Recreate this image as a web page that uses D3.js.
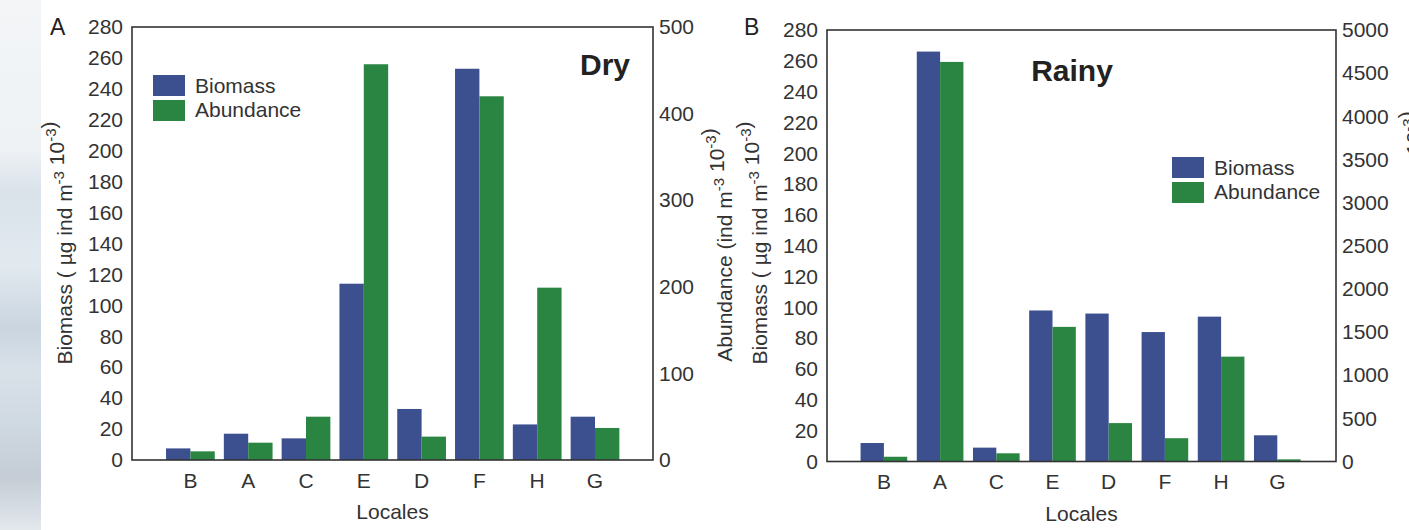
<!DOCTYPE html>
<html>
<head>
<meta charset="utf-8">
<script src="https://cdn.jsdelivr.net/npm/d3@7"></script>
<style>
  body { margin: 0; background: #fff; }
  svg { display: block; font-family: "Liberation Sans", Arial, sans-serif; }
</style>
</head>
<body>
<div id="chart"></div>
<script>
// values
const locales = ["B", "A", "C", "E", "D", "F", "H", "G"];
const dryBiomass = [7.5, 17, 14, 114, 33, 253, 23, 28];
const dryAbundance = [10, 20, 50, 457, 27, 420, 199, 37];
const rainyBiomass = [12, 266, 9, 98, 96, 84, 94, 17];
const rainyAbundance = [55, 4630, 95, 1560, 445, 270, 1215, 25];
const biomassTicks = [0, 20, 40, 60, 80, 100, 120, 140, 160, 180, 200, 220, 240, 260, 280];
const dryAbundanceTicks = [0, 100, 200, 300, 400, 500];
const rainyAbundanceTicks = [0, 500, 1000, 1500, 2000, 2500, 3000, 3500, 4000, 4500, 5000];
const seriesNames = ["Biomass", "Abundance"];

const colBiomass = "#3c4f8f",
    colAbundance = "#2a8543";

const width = 1409, height = 530;
const fontSize = 21;

const svg = d3.select("#chart")
    .append("svg")
    .attr("width", width)
    .attr("height", height);

// photo strip at the left edge
const grad = svg.append("defs").append("linearGradient")
    .attr("id", "strip").attr("x1", 0).attr("y1", 0).attr("x2", 0).attr("y2", 1);
[[0, "#f3f5f7"], [0.28, "#eef2f5"], [0.36, "#dae2ea"], [0.5, "#e2e9ef"], [0.62, "#cad5e0"],
 [0.7, "#d9e1e9"], [0.8, "#cfd9e2"], [0.9, "#c5ccd5"], [1, "#e3e8ed"]].forEach(s => {
    grad.append("stop").attr("offset", s[0]).attr("stop-color", s[1]);
});
svg.append("rect").attr("x", 0).attr("y", 0).attr("width", 41).attr("height", height)
    .attr("fill", "url(#strip)");

// rotated title with superscripts
function yTitle(g, x, y, parts) {
    const t = g.append("text")
        .attr("transform", "translate(" + x + "," + y + ")rotate(-90)")
        .attr("text-anchor", "middle")
        .attr("font-size", fontSize)
        .attr("fill", "#333");
    parts.forEach(p => {
        if (p.sup) {
            t.append("tspan").attr("dy", -8).attr("font-size", 15).text(p.sup);
            t.append("tspan").attr("dy", 8).text("");
        } else {
            t.append("tspan").text(p.t);
        }
    });
    return t;
}

function drawPanel(cfg) {
    const g = svg.append("g");

    const x = d3.scaleBand()
        .domain(locales)
        .range(cfg.band)
        .paddingInner(cfg.pad)
        .paddingOuter(cfg.pad / 2);

    const yL = d3.scaleLinear().domain([0, 280]).range([cfg.bottom, cfg.top]);
    const yR = d3.scaleLinear().domain([0, cfg.rTicks[cfg.rTicks.length - 1]]).range([cfg.bottom, cfg.top]);

    const half = x.bandwidth() / 2;

    // bars
    g.selectAll(".bio")
        .data(locales)
        .enter()
        .append("rect")
        .attr("x", d => x(d))
        .attr("y", (d, i) => yL(cfg.biomass[i]))
        .attr("width", half)
        .attr("height", (d, i) => cfg.bottom - yL(cfg.biomass[i]))
        .attr("fill", colBiomass);

    g.selectAll(".abu")
        .data(locales)
        .enter()
        .append("rect")
        .attr("x", d => x(d) + half)
        .attr("y", (d, i) => yR(cfg.abundance[i]))
        .attr("width", half)
        .attr("height", (d, i) => cfg.bottom - yR(cfg.abundance[i]))
        .attr("fill", colAbundance);

    // frame
    g.append("rect")
        .attr("x", cfg.left).attr("y", cfg.top)
        .attr("width", cfg.right - cfg.left).attr("height", cfg.bottom - cfg.top)
        .attr("fill", "none").attr("stroke", "#333").attr("stroke-width", 1.6);

    // axes (labels only, the frame carries the lines)
    const axL = g.append("g")
        .attr("transform", "translate(" + cfg.left + ",0)")
        .call(d3.axisLeft(yL).tickValues(biomassTicks).tickSize(0).tickPadding(9));
    const axR = g.append("g")
        .attr("transform", "translate(" + cfg.right + ",0)")
        .call(d3.axisRight(yR).tickValues(cfg.rTicks).tickFormat(d3.format("d")).tickSize(0).tickPadding(6));
    const axB = g.append("g")
        .attr("transform", "translate(0," + cfg.bottom + ")")
        .call(d3.axisBottom(x).tickSize(0).tickPadding(13));
    [axL, axR, axB].forEach(a => {
        a.select(".domain").remove();
        a.selectAll("text").attr("font-size", fontSize).attr("fill", "#333")
            .attr("font-family", "'Liberation Sans', Arial, sans-serif");
    });

    // panel letter
    g.append("text")
        .attr("x", cfg.letterX).attr("y", 35)
        .attr("font-size", 23).attr("fill", "#222")
        .text(cfg.letter);

    // season label
    g.append("text")
        .attr("x", cfg.seasonX).attr("y", cfg.seasonY)
        .attr("text-anchor", cfg.seasonAnchor)
        .attr("font-size", 30).attr("font-weight", "bold").attr("fill", "#222")
        .text(cfg.season);

    // x title
    g.append("text")
        .attr("x", (cfg.left + cfg.right) / 2).attr("y", cfg.bottom + 59)
        .attr("text-anchor", "middle")
        .attr("font-size", fontSize).attr("fill", "#333")
        .text("Locales");

    // y titles
    yTitle(g, cfg.left - 60, 243, [{t: "Biomass ( µg ind m"}, {sup: "-3"}, {t: " 10"}, {sup: "-3"}, {t: ")"}]);
    yTitle(g, cfg.right + cfg.rTitleOffset, cfg.rTitleY, [{t: "Abundance (ind m"}, {sup: "-3"}, {t: " 10"}, {sup: "-3"}, {t: ")"}]);

    // legend
    const lg = g.append("g").attr("transform", "translate(" + cfg.legX + "," + cfg.legY + ")");
    lg.selectAll("rect")
        .data(seriesNames)
        .enter()
        .append("rect")
        .attr("x", 0)
        .attr("y", (d, i) => i * 25)
        .attr("width", 32)
        .attr("height", 21)
        .attr("fill", (d, i) => i === 0 ? colBiomass : colAbundance);
    lg.selectAll("text")
        .data(seriesNames)
        .enter()
        .append("text")
        .attr("x", 42)
        .attr("y", (d, i) => 18 + i * 24)
        .attr("font-size", fontSize)
        .attr("fill", "#333")
        .text(d => d);
}

drawPanel({
    left: 132, right: 653, top: 27, bottom: 460,
    band: [161.5, 623.9], pad: 0.157,
    biomass: dryBiomass, abundance: dryAbundance, rTicks: dryAbundanceTicks,
    letter: "A", letterX: 50,
    season: "Dry", seasonX: 630, seasonY: 75, seasonAnchor: "end",
    legX: 153, legY: 75, rTitleOffset: 79, rTitleY: 245
});

drawPanel({
    left: 827, right: 1336, top: 30, bottom: 461.5,
    band: [855.8, 1305.4], pad: 0.17,
    biomass: rainyBiomass, abundance: rainyAbundance, rTicks: rainyAbundanceTicks,
    letter: "B", letterX: 744,
    season: "Rainy", seasonX: 1072, seasonY: 81, seasonAnchor: "middle",
    legX: 1172, legY: 157, rTitleOffset: 93, rTitleY: 228
});
</script>
</body>
</html>
